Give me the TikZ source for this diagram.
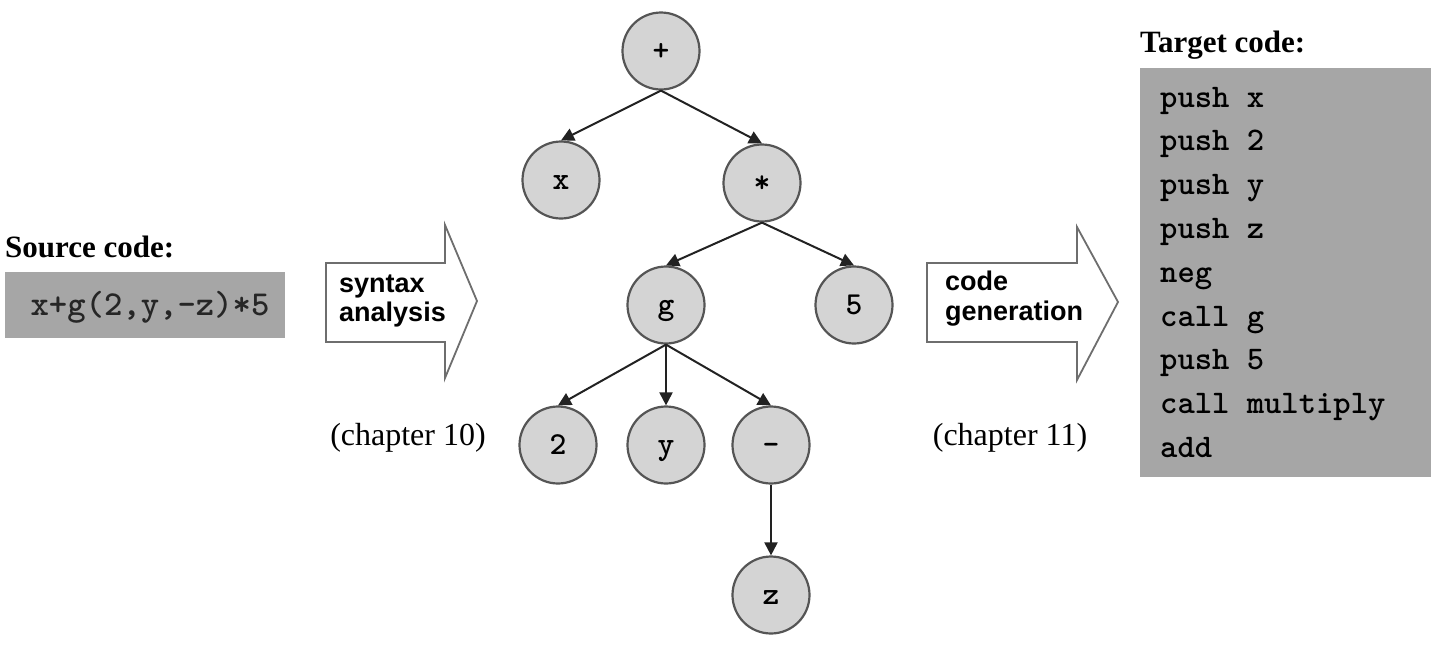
\documentclass[tikz,border=0pt]{standalone}
\usepackage{fontspec}
\setmainfont{Liberation Serif}
\setsansfont{Liberation Sans}
\usetikzlibrary{arrows.meta}
\definecolor{boxgray}{HTML}{A6A6A6}
\definecolor{nodegray}{HTML}{D4D4D4}
\definecolor{rimgray}{HTML}{555555}
\definecolor{edgegray}{HTML}{222222}
\definecolor{arrowrim}{HTML}{6E6E6E}
\begin{document}
\begin{tikzpicture}[x=1pt,y=-1pt,
  tnode/.style={circle,draw=rimgray,fill=nodegray,line width=2.2pt,minimum size=77pt,inner sep=0pt,
    text height=20pt,text depth=2pt,
    font=\fontsize{32}{34}\selectfont\ttfamily\bfseries},
  tedge/.style={draw=edgegray,line width=2pt,-{Triangle[length=13pt,width=13pt]}},
  heading/.style={anchor=base west,inner sep=0pt,font=\fontsize{31}{36}\selectfont\bfseries},
  chap/.style={anchor=base,inner sep=0pt,font=\fontsize{32}{36}\selectfont},
  arrowtext/.style={anchor=base west,inner sep=0pt,font=\fontsize{27}{30}\selectfont\sffamily\bfseries},
  codeline/.style={anchor=base west,inner sep=0pt,font=\fontsize{33}{36}\selectfont\ttfamily\bfseries},
  bigarrow/.style={draw=arrowrim,fill=white,line width=1.8pt,line join=miter}
]
\useasboundingbox (0,0) rectangle (1448,646);

% source code
\node[heading] (srclabel) at (5,257) {Source code:};
\fill[boxgray] (5,272) rectangle (285,338);
\node[anchor=base,inner sep=0pt,font=\fontsize{35}{38}\selectfont\ttfamily\bfseries,text=black!85] (src) at (150,315) {x+g(2,y,-z)*5};

% syntax analysis arrow
\draw[bigarrow] (326,263) -- (445,263) -- (445,225) -- (477,301) -- (445,378) -- (445,342) -- (326,342) -- cycle;
\node[arrowtext] (sa1) at (339,292) {syntax};
\node[arrowtext] (sa2) at (339,321) {analysis};
\node[chap] (ch10) at (408,445) {(chapter 10)};

% tree
\node[tnode] (plus) at (661,51) {+};
\node[tnode] (x) at (561,180) {x};
\node[tnode] (mul) at (762,183) {*};
\node[tnode] (g) at (666,305) {g};
\node[tnode] (five) at (854,305) {5};
\node[tnode] (two) at (558,445) {2};
\node[tnode] (y) at (666,445) {y};
\node[tnode] (neg) at (771,445) {-};
\node[tnode] (z) at (771,595) {z};

\draw[tedge] (plus.south) -- (x.north);
\draw[tedge] (plus.south) -- (mul.north);
\draw[tedge] (mul.south) -- (g.north);
\draw[tedge] (mul.south) -- (five.north);
\draw[tedge] (g.south) -- (two.north);
\draw[tedge] (g.south) -- (y.north);
\draw[tedge] (g.south) -- (neg.north);
\draw[tedge] (neg.south) -- (z.north);

% code generation arrow
\draw[bigarrow] (927,263) -- (1077,263) -- (1077,227) -- (1118,302) -- (1077,380) -- (1077,342) -- (927,342) -- cycle;
\node[arrowtext] (cg1) at (945,290) {code};
\node[arrowtext] (cg2) at (945,320) {generation};
\node[chap] (ch11) at (1010,445) {(chapter 11)};

% target code
\node[heading] (tgtlabel) at (1140,52) {Target code:};
\fill[boxgray] (1140,68) rectangle (1431,477);
\node[codeline] (t1) at (1160,107) {push x};
\node[codeline] (t2) at (1160,150.8) {push 2};
\node[codeline] (t3) at (1160,194.6) {push y};
\node[codeline] (t4) at (1160,238.4) {push z};
\node[codeline] (t5) at (1160,282.2) {neg};
\node[codeline] (t6) at (1160,326) {call g};
\node[codeline] (t7) at (1160,369.8) {push 5};
\node[codeline] (t8) at (1160,413.6) {call multiply};
\node[codeline] (t9) at (1160,457.4) {add};
\end{tikzpicture}
\end{document}
